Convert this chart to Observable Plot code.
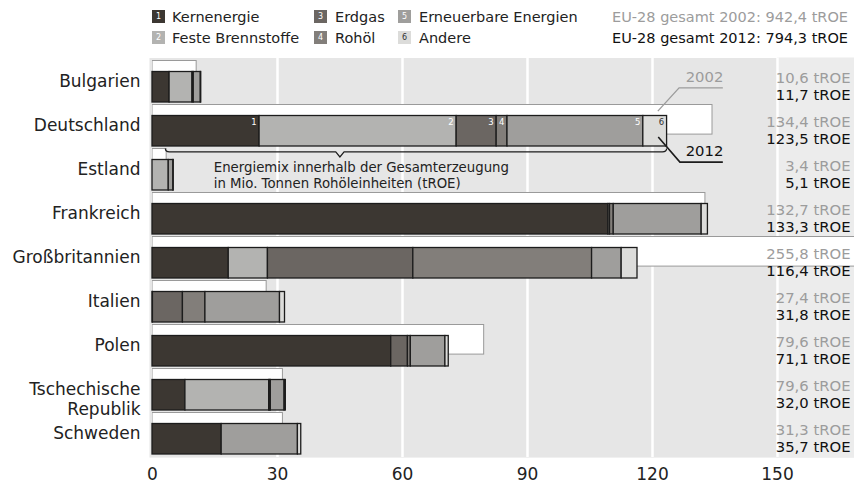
<!DOCTYPE html>
<html>
<head>
<meta charset="utf-8">
<script src="https://cdn.jsdelivr.net/npm/d3@7"></script>
<script src="https://cdn.jsdelivr.net/npm/@observablehq/plot@0.6"></script>
<style>
  body { margin: 0; background: white; font-family: "DejaVu Sans", sans-serif; }
  #legend { position: relative; width: 854px; height: 56px; font-size: 14.5px; color: #222; }
  #legend .sw { position: absolute; width: 13px; height: 13px; font-size: 8px; line-height: 13px; text-align: center; color: white; }
  #legend .lb { position: absolute; line-height: 18px; white-space: nowrap; }
  #legend .tot { position: absolute; right: 6px; line-height: 18px; white-space: nowrap; }
</style>
</head>
<body>
<div id="legend"></div>
<div id="chart"></div>
<script>
// ---- data ----
const countries = ["Bulgarien", "Deutschland", "Estland", "Frankreich", "Großbritannien", "Italien", "Polen", "Tschechische Republik", "Schweden"];
const countryLabels = ["Bulgarien", "Deutschland", "Estland", "Frankreich", "Großbritannien", "Italien", "Polen", "Tschechische\nRepublik", "Schweden"];
const sources = ["Kernenergie", "Feste Brennstoffe", "Erdgas", "Rohöl", "Erneuerbare Energien", "Andere"];
const colors = ["#3c3732", "#b3b3b1", "#6b6662", "#827e7a", "#9f9e9c", "#dcdcda"];

// 2012 energy mix (Mio. tROE)
const kernenergie = [4.1, 25.7, 0, 109.4, 18.3, 0, 57.3, 7.9, 16.6];
const festeBrennstoffe = [5.5, 47.3, 3.9, 0, 9.4, 0.1, 0, 20.1, 0];
const erdgas = [0.3, 9.6, 0, 0.4, 34.9, 7.2, 4.0, 0.2, 0];
const rohoel = [0, 2.6, 0, 0.9, 42.9, 5.4, 0.7, 0.2, 0];
const erneuerbare = [1.7, 32.6, 1.1, 21.1, 7.1, 17.9, 8.3, 3.3, 18.3];
const andere = [0.1, 5.7, 0.1, 1.5, 3.8, 1.2, 0.8, 0.3, 0.8];

// 2002 totals
const total2002 = [10.6, 134.4, 3.4, 132.7, 255.8, 27.4, 79.6, 31.3, 31.3];
const labels2002 = ["10,6", "134,4", "3,4", "132,7", "255,8", "27,4", "79,6", "79,6", "31,3"];
const labels2012 = ["11,7", "123,5", "5,1", "133,3", "116,4", "31,8", "71,1", "32,0", "35,7"];

const xTicks = [0, 30, 60, 90, 120, 150];
const gridTicks = [30, 60, 90, 120, 150];
const euTotals = ["EU-28 gesamt 2002: 942,4 tROE", "EU-28 gesamt 2012: 794,3 tROE"];
const noteText = "Energiemix innerhalb der Gesamterzeugung\nin Mio. Tonnen Rohöleinheiten (tROE)";

// ---- tables ----
const series = [kernenergie, festeBrennstoffe, erdgas, rohoel, erneuerbare, andere];
const rows2012 = [];
countries.forEach((c, i) => {
  let cum = 0;
  sources.forEach((s, j) => {
    const v = series[j][i];
    cum += v;
    if (v > 0) rows2012.push({country: c, source: s, value: v, idx: j, end: cum});
  });
});
const rowsTot = countries.map((c, i) => ({
  country: c, label: countryLabels[i], v2002: total2002[i],
  l2002: labels2002[i] + " tROE", l2012: labels2012[i] + " tROE"
}));
const de = rows2012.filter(d => d.country === "Deutschland");

// ---- legend (HTML) ----
const legend = document.getElementById("legend");
const legPos = [[152, 10, 172], [152, 31, 172], [314, 10, 335], [314, 31, 335], [398, 10, 419], [398, 31, 419]];
sources.forEach((s, j) => {
  const [sx, sy, tx] = legPos[j];
  const sw = document.createElement("div");
  sw.className = "sw";
  sw.style.left = sx + "px"; sw.style.top = sy + "px";
  sw.style.background = colors[j];
  if (j === 5) sw.style.color = "#333";
  sw.textContent = String(j + 1);
  legend.appendChild(sw);
  const lb = document.createElement("div");
  lb.className = "lb";
  lb.style.left = tx + "px"; lb.style.top = (sy - 2.5) + "px";
  lb.textContent = s;
  legend.appendChild(lb);
});
euTotals.forEach((t, k) => {
  const d = document.createElement("div");
  d.className = "tot";
  d.style.top = (k === 0 ? 7.5 : 28.5) + "px";
  d.style.color = k === 0 ? "#9c9c9c" : "#111";
  d.textContent = t;
  legend.appendChild(d);
});

// ---- chart ----
const plot = Plot.plot({
  width: 854,
  height: 429,
  marginTop: 1.5,
  marginBottom: 27.9,
  marginLeft: 152,
  marginRight: 0,
  style: {fontFamily: "DejaVu Sans", fontSize: "17px", color: "#222", background: "white", overflow: "visible"},
  x: {domain: [0, 168.48], ticks: xTicks, tickSize: 0, tickPadding: 10, label: null},
  y: {type: "band", domain: countries, padding: 0, axis: null},
  color: {domain: sources, range: colors},
  marks: [
    Plot.frame({fill: "#e6e6e6", stroke: "none", insetLeft: -3}),
    Plot.rect([0], {x1: 150, x2: 168.48, fill: "#ececec"}),
    Plot.ruleX(gridTicks, {stroke: "white", strokeWidth: 2.5}),
    Plot.barX(rowsTot, {y: "country", x: "v2002", fill: "white", stroke: "#9a9a9a", strokeWidth: 1, insetTop: 1.5, insetBottom: 12.9, clip: true}),
    Plot.barX(rows2012, {y: "country", x: "value", fill: "source", order: sources, stroke: "#1c1c1c", strokeWidth: 1.3, insetTop: 12.5, insetBottom: 1}),
    Plot.text(de.filter(d => d.idx < 5), {x: "end", y: "country", text: d => String(d.idx + 1), textAnchor: "end", dx: -3, dy: -3.6, fontSize: 8.5, fill: "white"}),
    Plot.text(de.filter(d => d.idx === 5), {x: "end", y: "country", text: d => String(d.idx + 1), textAnchor: "end", dx: -3, dy: -3.6, fontSize: 8.5, fill: "#333"}),
    Plot.text(rowsTot, {y: "country", text: "label", frameAnchor: "left", textAnchor: "end", lineAnchor: "top", dx: -12, dy: -9, lineHeight: 1.17, fontSize: 17, fill: "#222"}),
    Plot.text(rowsTot, {y: "country", text: "l2002", frameAnchor: "right", textAnchor: "end", dx: -4, dy: -3.7, fontSize: 14.8, fill: "#9c9c9c"}),
    Plot.text(rowsTot, {y: "country", text: "l2012", frameAnchor: "right", textAnchor: "end", dx: -4, dy: 13.3, fontSize: 14.8, fill: "#111"}),
    Plot.text([noteText], {x: 14.7, y: () => "Estland", text: d => d, textAnchor: "start", lineAnchor: "middle", dy: 5.2, lineHeight: 1.2, fontSize: 13.3, fill: "#222"}),
    Plot.text(["2002"], {x: 137.0, y: () => "Deutschland", text: d => d, textAnchor: "end", dy: -48.6, fontSize: 14.8, fill: "#9c9c9c"}),
    Plot.text(["2012"], {x: 137.0, y: () => "Deutschland", text: d => d, textAnchor: "end", dy: 25.6, fontSize: 14.8, fill: "#111"})
  ]
});
document.getElementById("chart").appendChild(plot);

// ---- annotation lines drawn with the plot's own scales ----
const xS = plot.scale("x"), yS = plot.scale("y");
const px = v => xS.apply(v);
const py = off => yS.apply("Deutschland") + off;
const svg = d3.select(plot);
const g = svg.append("g").attr("fill", "none");
const lead2002 = [[121.4, 8.1], [126.5, -15.2], [137.0, -15.2]];
const lead2012 = [[121.5, 34.1], [126.7, 59.1], [137.0, 59.1]];
const ln = d3.line().x(d => px(d[0])).y(d => py(d[1]));
g.append("path").attr("d", ln(lead2002)).attr("stroke", "#9c9c9c").attr("stroke-width", 1.3);
g.append("path").attr("d", ln(lead2012)).attr("stroke", "#1c1c1c").attr("stroke-width", 1.6);
const brace = `M${px(3.2)},${py(45.5)} Q${px(3.2)},${py(48.8)} ${px(4.2)},${py(48.8)} L${px(44.1)},${py(48.8)} L${px(45.1)},${py(54)} L${px(46.1)},${py(48.8)} L${px(122.5)},${py(48.8)} Q${px(123.5)},${py(48.8)} ${px(123.5)},${py(45.5)}`;
g.append("path").attr("d", brace).attr("stroke", "#1c1c1c").attr("stroke-width", 1.2);
</script>
</body>
</html>
